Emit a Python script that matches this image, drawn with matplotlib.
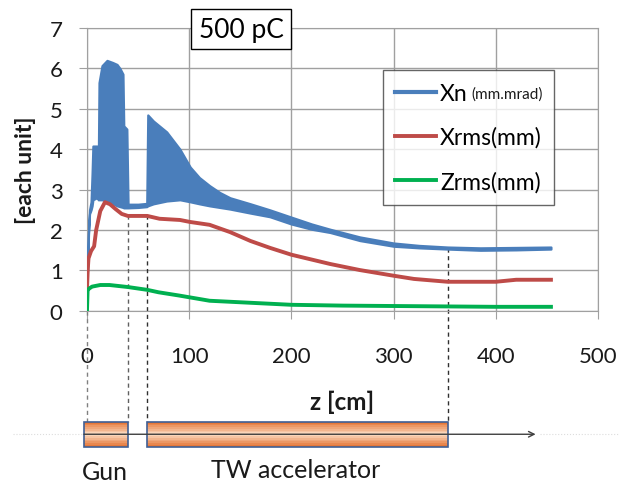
"""
Emitancia y tamaños del haz a lo largo de z (500 pC)
"""
import matplotlib
matplotlib.use('Agg')
import matplotlib.pyplot as plt
from matplotlib.patches import Rectangle
import numpy as np

plt.rcParams['font.family'] = ['Lato', 'DejaVu Sans']

# Xn (mm.mrad): envolvente superior e inferior de la oscilación
z_xn = [0.5, 1.5, 2.5, 4, 5, 5.8, 9.6, 10.3, 11, 11.8, 14.7, 19.6, 25, 29.4, 32.3,
        35.2, 36, 39, 40.2, 50, 58.5, 59.5, 65, 78, 91, 101, 110, 120, 130, 140,
        160, 179, 200, 220, 238, 267, 300, 325, 353, 385, 420, 454]
xn_alto = [1.0, 2.0, 2.5, 2.7, 3.4, 4.08, 4.08, 3.4, 3.4, 5.65, 6.07, 6.2, 6.15, 6.1, 6.0,
           5.86, 4.58, 4.5, 2.64, 2.64, 2.66, 4.85, 4.7, 4.43, 4.0, 3.56, 3.3, 3.1, 2.93, 2.8,
           2.65, 2.5, 2.32, 2.15, 2.02, 1.83, 1.68, 1.62, 1.58, 1.56, 1.57, 1.58]
xn_bajo = [1.0, 1.9, 2.4, 2.5, 2.6, 2.75, 2.8, 2.8, 2.75, 2.75, 2.75, 2.72, 2.66, 2.6, 2.58,
           2.56, 2.55, 2.55, 2.55, 2.56, 2.58, 2.6, 2.65, 2.72, 2.75, 2.7, 2.65, 2.6, 2.56, 2.52,
           2.42, 2.33, 2.15, 2.02, 1.94, 1.74, 1.6, 1.56, 1.53, 1.5, 1.51, 1.53]

# Xrms (mm)
z_xrms = [0, 0.8, 1.5, 4, 7, 9, 13, 17.6, 22.5, 28, 34, 40, 52, 59, 71, 91, 101, 120,
          140, 160, 179, 200, 238, 267, 300, 320, 353, 400, 420, 454]
xrms = [0.54, 1.04, 1.3, 1.48, 1.6, 2.0, 2.47, 2.69, 2.64, 2.52, 2.4, 2.35, 2.35, 2.35,
        2.28, 2.25, 2.2, 2.13, 1.95, 1.73, 1.56, 1.39, 1.16, 1.01, 0.87, 0.79, 0.72, 0.72,
        0.77, 0.77]

# Zrms (mm)
z_zrms = [0, 0.6, 2, 5, 13, 22, 40, 59, 70, 90, 120, 160, 200, 250, 300, 350, 400, 454]
zrms = [0.0, 0.5, 0.55, 0.6, 0.64, 0.64, 0.59, 0.52, 0.46, 0.38, 0.25, 0.2, 0.15, 0.13,
        0.12, 0.11, 0.1, 0.1]

# Elementos del acelerador (cm)
gun = (-3, 40.1)
tw = (58.7, 353)
z_flecha = 439

AZUL = '#4A7EBB'
ROJO = '#BE4B48'
VERDE = '#00B050'
GRIS = '#A0A0A0'

W, H = 619, 485
fig = plt.figure(figsize=(W / 100, H / 100), dpi=100)
ax = fig.add_axes([0.1405, 0.357, 0.8255, 0.583])

# Curvas
ax.fill_between(z_xn, xn_bajo, xn_alto, color=AZUL, lw=1.6, zorder=3)
ax.plot([], [], color=AZUL, lw=3, label='Xn')
ax.plot(z_xrms, xrms, color=ROJO, lw=2.8, label='Xrms(mm)', zorder=4)
ax.plot(z_zrms, zrms, color=VERDE, lw=2.8, label='Zrms(mm)', zorder=4)

# Ejes estilo Excel
ax.set_xlim(0, 500)
ax.set_ylim(0, 7)
ax.set_xticks(range(0, 501, 100))
ax.set_yticks(range(0, 8))
ax.grid(True, color=GRIS, lw=1)
ax.set_axisbelow(True)
for s in ax.spines.values():
    s.set_color(GRIS)
ax.tick_params(axis='both', direction='out', length=5.5, color=GRIS, labelsize=16,
               labelcolor='#1a1a1a')
ax.tick_params(axis='x', pad=20)
ax.tick_params(axis='y', pad=12)

ax.set_ylabel('[each unit]', fontsize=16.5, fontweight='bold', color='#1a1a1a')
ax.yaxis.set_label_coords(-0.10, 0.5)
ax.set_xlabel('z [cm]', fontsize=17.5, fontweight='bold', color='#1a1a1a')
ax.xaxis.set_label_coords(0.5, -0.28)

# Leyenda
leg = ax.legend(loc='upper left', bbox_to_anchor=(0.579, 0.852), borderaxespad=0,
                fontsize=16.5, frameon=True, fancybox=False, handlelength=1.75,
                handletextpad=0.2, labelspacing=1.0, borderpad=0.55)
leg.get_frame().set_edgecolor('#404040')
leg.get_frame().set_linewidth(1)

# Etiqueta de carga
fig.text(0.3895, 0.938, '500 pC', fontsize=19, ha='center', va='center',
         bbox=dict(boxstyle='square,pad=0.3', fc='white', ec='black', lw=1))
sx = np.linspace(0.408, 0.455, 14)
sy = 0.913 + 0.003 * np.array([(-1) ** i for i in range(14)])
fig.add_artist(plt.Line2D(sx, sy, color='#e03030', lw=0.8))

# Esquema del acelerador bajo el eje
y_top, y_bot = -2.75, -3.36
y_mid = (y_top + y_bot) / 2
n = 14
tonos = plt.matplotlib.colors.LinearSegmentedColormap.from_list(
    'cobre', ['#E5783A', '#FBDCC4', '#E5783A'])
for x0, x1 in [gun, tw]:
    h = (y_top - y_bot) / n
    for k in range(n):
        ax.add_patch(Rectangle((x0, y_bot + k * h), x1 - x0, h * 1.02,
                               fc=tonos(k / (n - 1)), ec='none', clip_on=False, zorder=5))
    ax.add_patch(Rectangle((x0, y_bot), x1 - x0, y_top - y_bot, fc='none',
                           ec='#3F5F95', lw=1.2, clip_on=False, zorder=6))

ax.annotate('', xy=(z_flecha, y_mid), xytext=(gun[0], y_mid),
            arrowprops=dict(arrowstyle='->', color='#404040', lw=1,
                            shrinkA=0, shrinkB=0), annotation_clip=False, zorder=7)
ax.plot([-72, gun[0]], [y_mid, y_mid], ls=':', color='#dddddd', lw=0.8, clip_on=False)
ax.plot([z_flecha + 4, 520], [y_mid, y_mid], ls=':', color='#dddddd', lw=0.8, clip_on=False)

# Líneas de referencia punteadas
for zx, ytop, col in [(0, 0, '#808080'), (gun[1], 2.38, '#606060'),
                      (tw[0], 2.38, '#303030'), (tw[1], 1.56, '#303030')]:
    ax.plot([zx, zx], [ytop, y_top], ls=(0, (3, 2.5)), color=col, lw=1,
            clip_on=False, zorder=2)

ax.text(np.mean(gun) - 1, -3.98, 'Gun', fontsize=18, ha='center', va='center',
        color='#1a1a1a')
ax.text(204, -3.93, 'TW accelerator', fontsize=18, ha='center', va='center',
        color='#1a1a1a')

ax.set_xlim(0, 500)
ax.set_ylim(0, 7)

# Unidades de Xn en letra pequeña, detrás de la etiqueta
fig.canvas.draw()
bb = leg.get_texts()[0].get_window_extent()
fig.text((bb.x1 + 4) / W, (bb.y0 + 3) / H, '(mm.mrad)', fontsize=11,
         ha='left', va='bottom', color='#1a1a1a', zorder=10)

fig.savefig('out.png', dpi=100, facecolor='white')
